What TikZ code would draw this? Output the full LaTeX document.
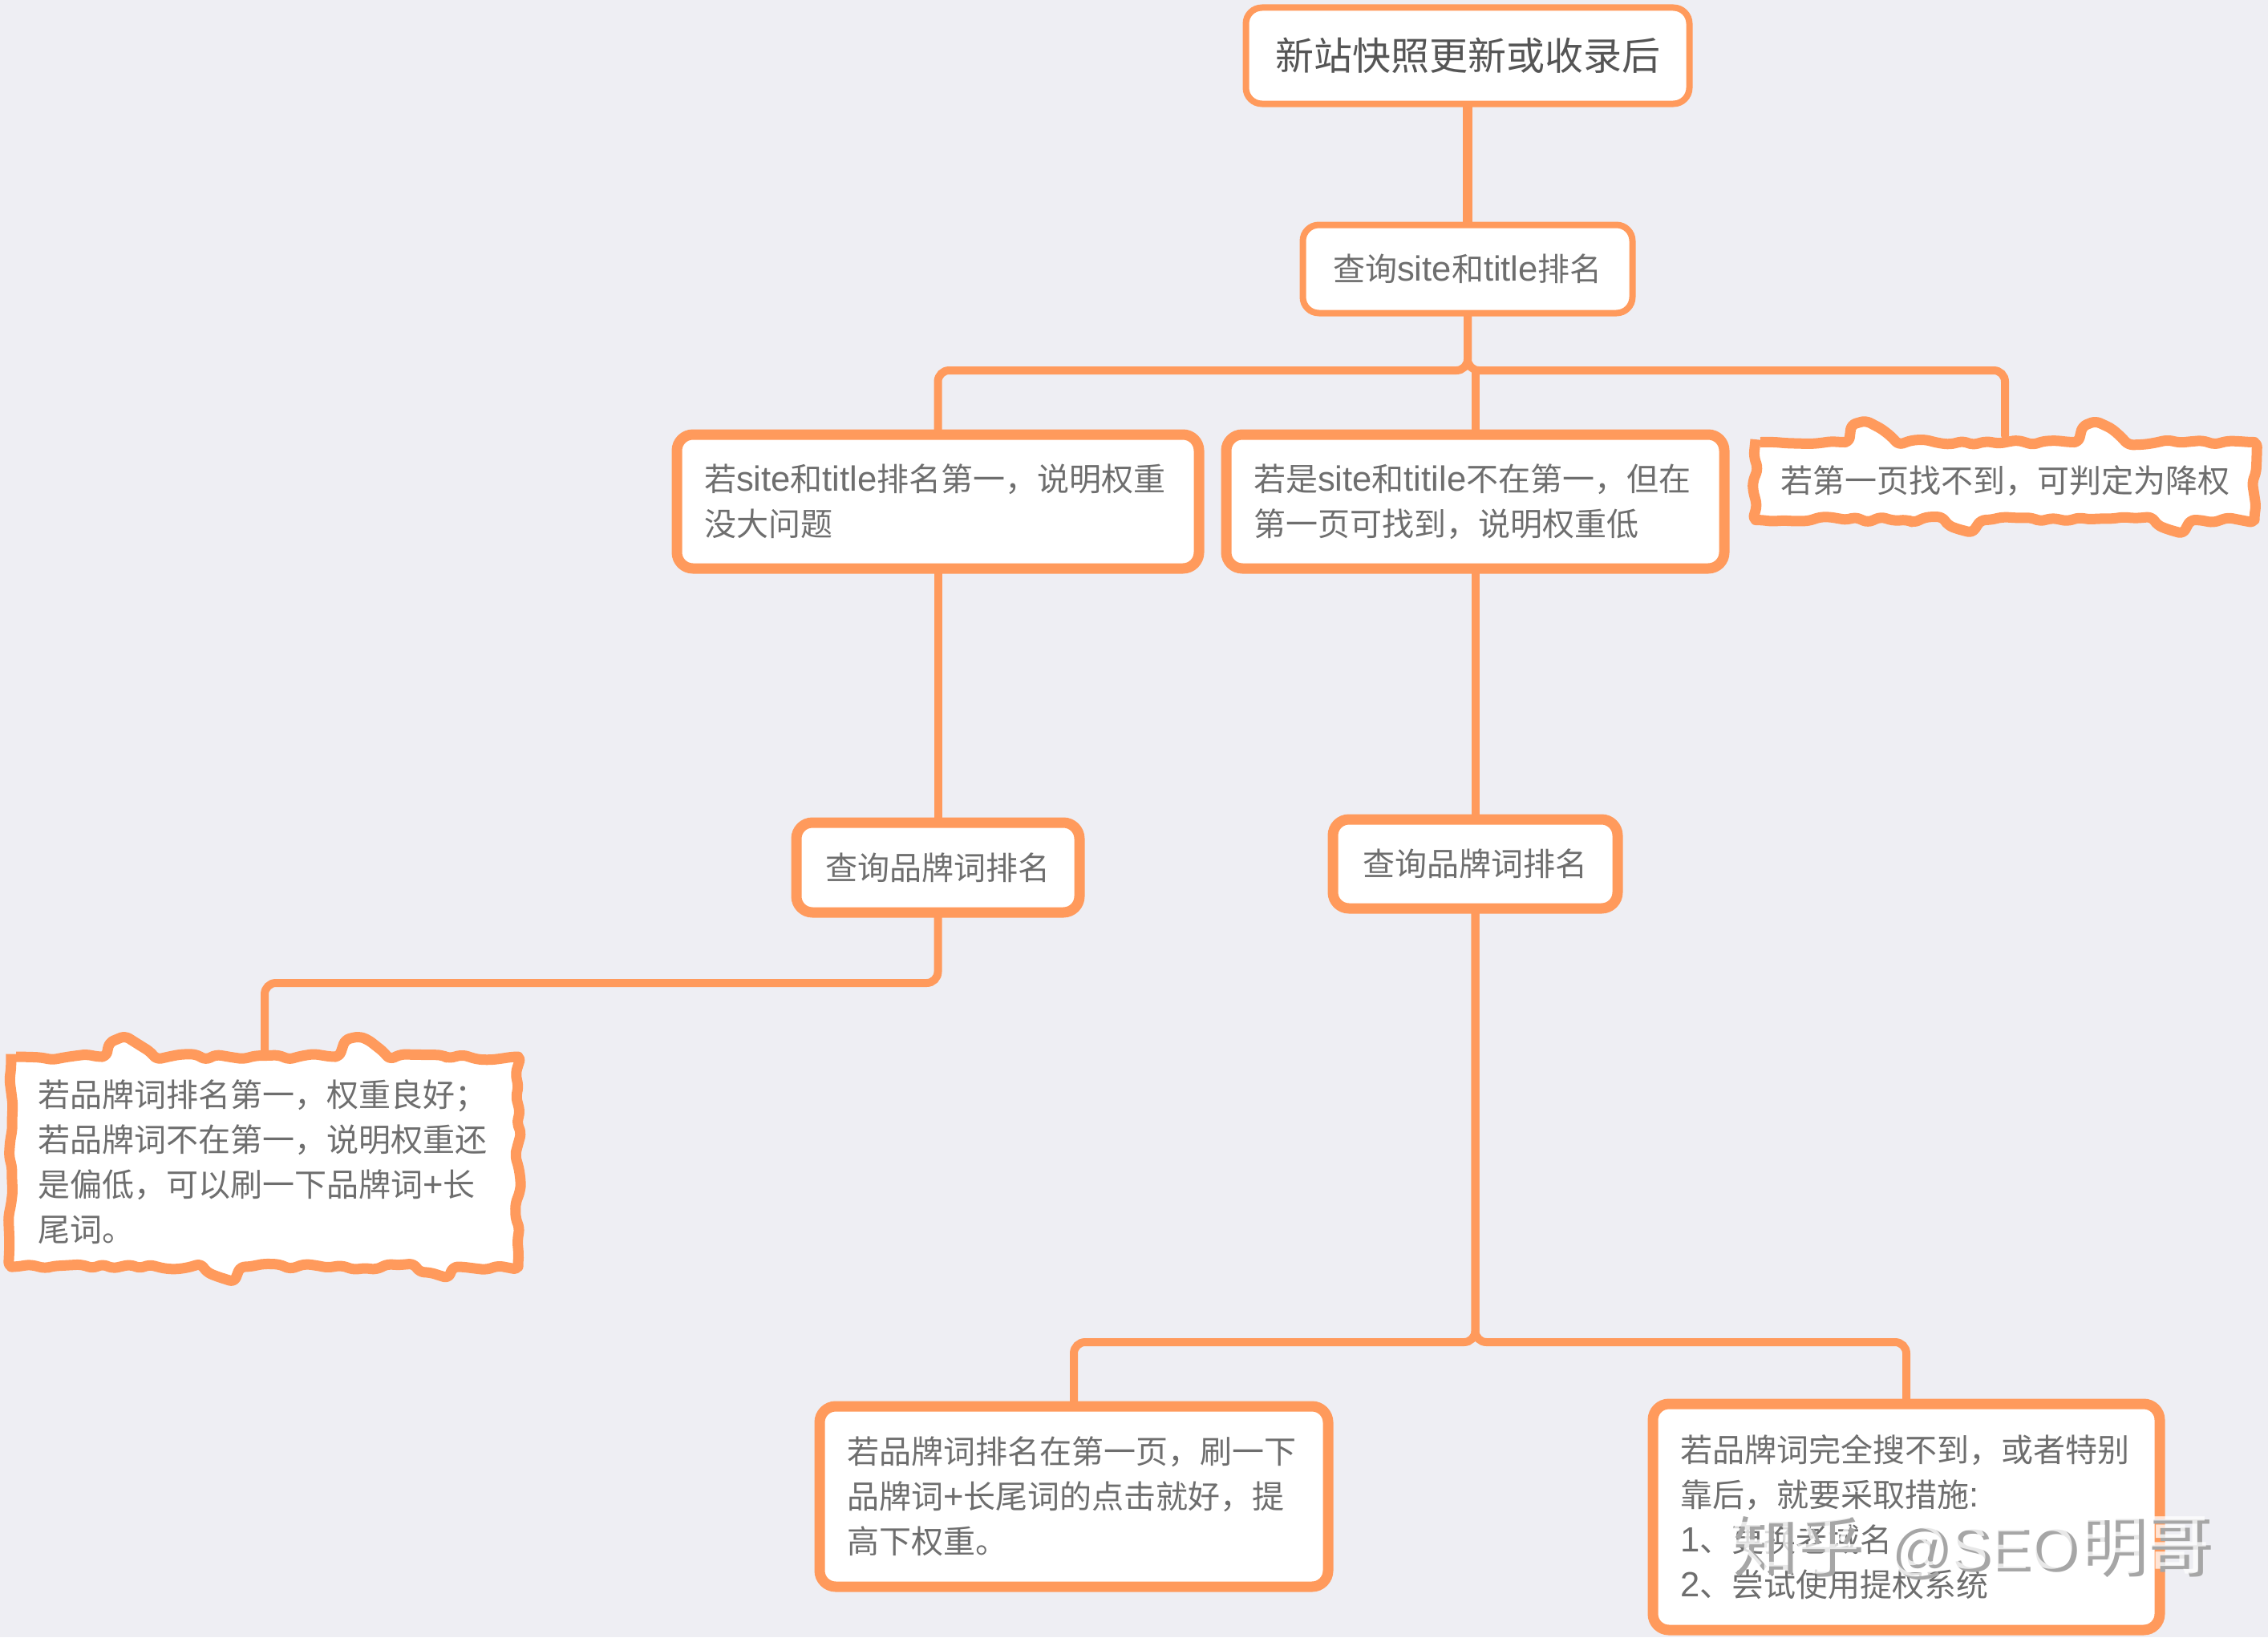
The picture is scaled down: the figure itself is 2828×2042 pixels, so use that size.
\documentclass[tikz,border=0pt]{standalone}
\usepackage{fontspec}
\usetikzlibrary{decorations.pathmorphing,calc}
\setmainfont{Noto Sans CJK SC}
\newfontfamily\latf[Scale=1.09]{Liberation Sans}
\newfontfamily\latw{Liberation Sans}
\newcommand{\lat}[1]{{\latf #1}}
\definecolor{bgc}{HTML}{EEEEF3}
\definecolor{org}{HTML}{FF9A5C}
\definecolor{txt}{HTML}{6E6E6E}
\definecolor{txtd}{HTML}{555555}
\definecolor{wms}{HTML}{A6A6A6}
\pgfdeclarelayer{bglayer}
\pgfsetlayers{bglayer,main}
\tikzset{
  box/.style={draw=org,fill=white,rounded corners=20pt,line width=13pt,text=txt,inner sep=0pt,outer sep=0pt,
    font=\fontsize{40}{56}\selectfont,align=left},
  thin box/.style={box,line width=8pt},
  multi/.style={inner xsep=34pt,text width=#1pt},
  cloudtext/.style={text=txt,inner sep=0pt,outer sep=0pt,font=\fontsize{40}{56}\selectfont,align=left},
  conn/.style={draw=org,line width=10pt,rounded corners=14pt,line cap=round},
  cloudline/.style={draw=org,fill=white,line width=13pt,line join=round,rounded corners=6pt,
    decorate,decoration={random steps,segment length=15pt,amplitude=4pt}},
  wm/.style={inner sep=0pt,font=\fontsize{82}{90}\selectfont}
}
\newcommand{\wmtext}{知乎\hspace{34pt}{\latw\fontsize{75}{90}\selectfont @SEO}\hspace{4pt}明哥}
\newcommand{\cloudbox}[1]{%
  \begin{pgfonlayer}{bglayer}
  \path[cloudline]
    (#1.north west)
    -- ($(#1.north west)!.18!(#1.north east)$)
    .. controls +(12,-24) and +(-30,-24) .. ($(#1.north west)!.28!(#1.north east)$)
    -- ($(#1.north west)!.64!(#1.north east)$)
    .. controls +(12,-24) and +(-30,-24) .. ($(#1.north west)!.74!(#1.north east)$)
    -- (#1.north east) -- (#1.south east)
    -- ($(#1.south west)!.88!(#1.south east)$)
    .. controls +(-8,9) and +(8,9) .. ($(#1.south west)!.80!(#1.south east)$)
    -- ($(#1.south west)!.46!(#1.south east)$)
    .. controls +(-8,9) and +(8,9) .. ($(#1.south west)!.38!(#1.south east)$)
    -- (#1.south west) -- cycle;
  \end{pgfonlayer}}
\begin{document}
\begin{tikzpicture}[x=1pt,y=-1pt]
\begin{pgfonlayer}{bglayer}
\fill[bgc] (0,0) rectangle (2828,2042);
\end{pgfonlayer}
\useasboundingbox (0,0) rectangle (2828,2042);
\pgfmathsetseed{11}
% nodes
\node[thin box,minimum width=553pt,minimum height=120pt,text=txtd,font=\fontsize{48}{60}\selectfont] (root) at (1830,69.5) {新站快照更新或收录后};
\node[thin box,minimum width=411pt,minimum height=110pt] (query) at (1830,335.5) {查询\lat{site}和\lat{title}排名};
\node[box,multi=583,minimum height=167pt] (a) at (1169.5,625.5) {若\lat{site}和\lat{title}排名第一，说明权重\\没大问题};
\node[box,multi=553,minimum height=167pt] (b) at (1839.5,625.5) {若是\lat{site}和\lat{titile}不在第一，但在\\第一页可找到，说明权重低};
\node[cloudtext,minimum width=622pt,minimum height=97pt,align=center] (c) at (2500,600) {若第一页找不到，可判定为降权};
\node[box,minimum width=353pt,minimum height=112pt] (d) at (1169.5,1082) {查询品牌词排名};
\node[box,minimum width=355pt,minimum height=111pt] (e) at (1839.5,1077.5) {查询品牌词排名};
\node[cloudtext,minimum width=632pt,minimum height=262pt,text width=566pt,inner xsep=33pt] (f) at (330,1449) {若品牌词排名第一，权重良好；\\若品牌词不在第一，说明权重还\\是偏低，可以刷一下品牌词\lat{+}长\\尾词。};
\node[box,multi=566,minimum height=225pt] (g) at (1339,1866.5) {若品牌词排名在第一页，刷一下\\品牌词\lat{+}长尾词的点击就好，提\\高下权重。};
\node[box,multi=564,minimum height=282pt] (h) at (2377,1892) {若品牌词完全搜不到，或者特别\\靠后，就要采取措施\lat{:}\\\lat{1}、更换老域名\\\lat{2}、尝试使用提权系统};
\cloudbox{c}
\cloudbox{f}
% helper levels
\coordinate (busa) at (0,462);
\coordinate (busd) at (0,1226);
\coordinate (buse) at (0,1674);
% connectors
\begin{pgfonlayer}{bglayer}
\draw[conn,line width=12pt,line cap=butt] (root.south) -- (query.north);
\draw[conn] (query.south) |- (a.north |- busa) -- (a.north);
\draw[conn] (query.south) |- (c.north |- busa) -- ([yshift=8pt]c.north);
\draw[conn,line cap=butt] (b.north |- busa) -- (b.north);
\draw[conn,line cap=butt] (a.south) -- (d.north);
\draw[conn,line cap=butt] (b.south) -- (e.north);
\draw[conn] (d.south) |- (f.north |- busd) -- ([yshift=8pt]f.north);
\draw[conn] (e.south) |- (g.north |- buse) -- (g.north);
\draw[conn] (e.south) |- (h.north |- buse) -- (h.north);
\end{pgfonlayer}
% watermark
\node[wm,text=wms,anchor=west] (wmb) at (2161,1931) {\wmtext};
\node[wm,text=white,opacity=.75,anchor=west] (wmf) at (2155,1927) {\wmtext};
\end{tikzpicture}
\end{document}
